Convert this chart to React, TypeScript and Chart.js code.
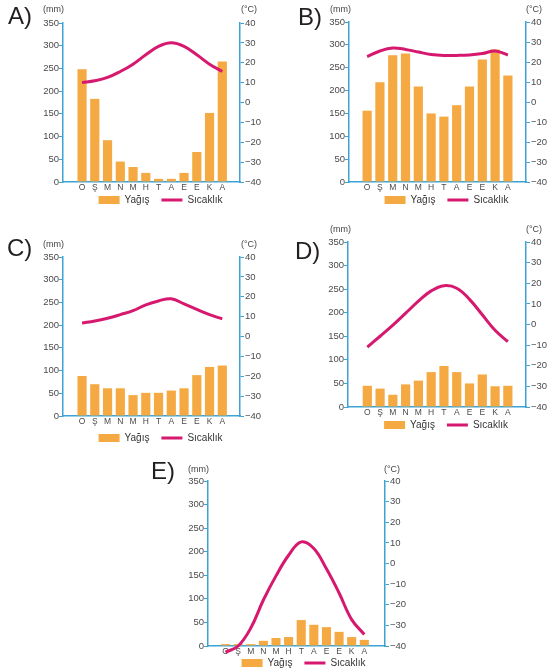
import React, { useEffect, useRef } from 'react';
import { Chart, registerables } from 'chart.js';

Chart.register(...registerables);

// ---- data ----
const months = ['O', 'Ş', 'M', 'N', 'M', 'H', 'T', 'A', 'E', 'E', 'K', 'A'];
const legendNames = ['Yağış', 'Sıcaklık'];
const unitLeft = '(mm)';
const unitRight = '(°C)';

const precipA = [248, 183, 92, 45, 33, 20, 7, 7, 20, 66, 152, 265];
const tempA = [10, 10.9, 12.6, 15.6, 19.3, 24, 28.2, 30, 28.2, 24, 19.3, 15.6];

const precipB = [156, 218, 277, 281, 209, 150, 143, 168, 209, 268, 290, 233];
const tempB = [22.7, 25.5, 27, 26.3, 25, 23.8, 23.3, 23.3, 23.5, 24.2, 25.5, 23.5];

const precipC = [88, 70, 61, 61, 46, 51, 51, 56, 61, 90, 108, 111];
const tempC = [6.8, 7.8, 9.2, 11, 13, 15.9, 17.9, 19, 16.4, 13.6, 11, 8.9];

const precipD = [45, 39, 26, 48, 56, 74, 87, 74, 50, 69, 44, 45];
const tempD = [-11, -5.7, -0.3, 5.5, 11.3, 16.3, 18.8, 17.6, 12.2, 4.7, -2.8, -8.3];

const precipE = [4, 4, 4, 11, 17, 19, 55, 45, 40, 30, 19, 13];
const tempE = [-43, -40, -31.3, -17.7, -6, 4, 10.5, 7.3, -2.6, -14.3, -27.2, -34.4];

// ---- style ----
const FONT = "'Liberation Sans', Arial, Helvetica, sans-serif";
const BAR_COLOR = '#F5A942';
const LINE_COLOR = '#D6186E';
const AXIS_COLOR = '#3DA3D4';
const TICK_COLOR = '#4a4a4a';

Chart.defaults.font.family = FONT;

type Panel = {
  letter: string;
  precip: number[];
  temp: number[];
  L: number; R: number; T: number; B: number;
  xMin: number; xMax: number;
  legendGap: number; rightW: number;
  letterX: number; letterTop: number;
  unitTop: number; mmX: number; cX: number;
};

const panels: Panel[] = [
  { letter: 'A', precip: precipA, temp: tempA, L: 63, R: 240, T: 23, B: 182, xMin: -0.915, xMax: 11.81, legendGap: 18, rightW: 58, letterX: 8, letterTop: 4, unitTop: 5.4, mmX: 43, cX: 241 },
  { letter: 'B', precip: precipB, temp: tempB, L: 349, R: 526, T: 22, B: 182, xMin: -0.84, xMax: 11.84, legendGap: 18, rightW: 58, letterX: 298, letterTop: 5, unitTop: 5.4, mmX: 330, cX: 526 },
  { letter: 'C', precip: precipC, temp: tempC, L: 63, R: 240, T: 257, B: 416, xMin: -0.915, xMax: 11.81, legendGap: 22, rightW: 58, letterX: 7, letterTop: 236, unitTop: 240.4, mmX: 43, cX: 241 },
  { letter: 'D', precip: precipD, temp: tempD, L: 348, R: 526, T: 242, B: 407, xMin: -0.93, xMax: 11.84, legendGap: 18, rightW: 58, letterX: 295, letterTop: 239, unitTop: 225.4, mmX: 330, cX: 526 },
  { letter: 'E', precip: precipE, temp: tempE, L: 208, R: 385, T: 481, B: 646, xMin: -0.85, xMax: 12.1, legendGap: 17, rightW: 54, letterX: 151, letterTop: 459, unitTop: 465.4, mmX: 188, cX: 384 },
];

const LEFT_W = 40;
const PAD_TOP = 10;
const X_AXIS_H = 12;
const LEGEND_PAD = 12;
const LEGEND_FONT = 10;
const LEGEND_H = LEGEND_FONT + LEGEND_PAD + 10;

function ClimatePanel({ p }: { p: Panel }) {
  const ref = useRef<HTMLCanvasElement>(null);
  const cw = LEFT_W + (p.R - p.L) + p.rightW;
  const ch = PAD_TOP + (p.B - p.T) + X_AXIS_H + LEGEND_H;
  // natural legend item centre sits X_AXIS_H + LEGEND_PAD + font/2 below the axis
  const legendShift = X_AXIS_H + LEGEND_PAD + LEGEND_FONT / 2 - p.legendGap;

  useEffect(() => {
    if (!ref.current) return;
    const tickFont = { family: FONT, size: 9.5 };
    const shiftLegend = {
      id: 'shiftLegend',
      afterLayout(chart: any) {
        const lg = chart.legend;
        if (lg) {
          lg.top -= legendShift;
          lg.bottom -= legendShift;
        }
      },
    };
    const chart = new Chart(ref.current, {
      type: 'bar',
      data: {
        datasets: [
          {
            type: 'bar',
            label: legendNames[0],
            data: p.precip.map((v, i) => ({ x: i, y: v })),
            backgroundColor: BAR_COLOR,
            borderWidth: 0,
            barPercentage: 0.72,
            categoryPercentage: 1,
            xAxisID: 'x',
            yAxisID: 'y',
            order: 1,
          } as any,
          {
            type: 'line',
            label: legendNames[1],
            data: p.temp.map((v, i) => ({ x: i, y: v })),
            borderColor: LINE_COLOR,
            backgroundColor: LINE_COLOR,
            borderWidth: 3,
            pointRadius: 0,
            tension: 0.4,
            clip: false,
            xAxisID: 'x',
            yAxisID: 'y2',
            order: 0,
          } as any,
        ],
      },
      plugins: [shiftLegend],
      options: {
        responsive: false,
        animation: false,
        events: [],
        layout: { padding: { top: PAD_TOP, left: 0, right: 0, bottom: 0 } },
        plugins: {
          tooltip: { enabled: false },
          legend: {
            position: 'bottom',
            labels: {
              usePointStyle: true,
              pointStyleWidth: 21,
              boxHeight: 8,
              padding: LEGEND_PAD,
              color: '#333',
              font: { family: FONT, size: LEGEND_FONT },
              generateLabels: (c: any) => {
                const items = (Chart.defaults.plugins.legend.labels as any).generateLabels(c);
                items.forEach((it: any) => {
                  if (it.datasetIndex === 0) {
                    it.pointStyle = 'rect';
                    it.fillStyle = BAR_COLOR;
                    it.lineWidth = 0;
                  } else {
                    it.pointStyle = 'line';
                    it.strokeStyle = LINE_COLOR;
                    it.lineWidth = 3;
                  }
                });
                return items.sort((a: any, b: any) => a.datasetIndex - b.datasetIndex);
              },
            },
          },
        },
        scales: {
          x: {
            type: 'linear',
            position: 'bottom',
            min: p.xMin,
            max: p.xMax,
            afterFit: (s: any) => { s.height = X_AXIS_H; },
            grid: { display: false, drawTicks: false },
            border: { display: true, color: AXIS_COLOR, width: 1.5 },
            ticks: {
              stepSize: 1,
              autoSkip: false,
              includeBounds: false,
              maxRotation: 0,
              padding: 1,
              color: TICK_COLOR,
              font: { family: FONT, size: 8.5 },
              callback: (v: any) => (Number.isInteger(v) && months[v] !== undefined ? months[v] : ''),
            },
          },
          y: {
            type: 'linear',
            position: 'left',
            min: 0,
            max: 350,
            afterFit: (s: any) => { s.width = LEFT_W; },
            grid: { drawOnChartArea: false, drawTicks: true, tickLength: 4, color: AXIS_COLOR, lineWidth: 1 },
            border: { display: true, color: AXIS_COLOR, width: 1.5 },
            ticks: { stepSize: 50, padding: 0, color: TICK_COLOR, font: tickFont },
          },
          y2: {
            type: 'linear',
            position: 'right',
            min: -40,
            max: 40,
            afterFit: (s: any) => { s.width = p.rightW; },
            grid: { drawOnChartArea: false, drawTicks: true, tickLength: 4, color: AXIS_COLOR, lineWidth: 1 },
            border: { display: true, color: AXIS_COLOR, width: 1.5 },
            ticks: {
              stepSize: 10,
              padding: 1,
              color: TICK_COLOR,
              font: tickFont,
              callback: (v: any) => String(v).replace('-', '\u2212'),
            },
          },
        },
      } as any,
    });
    return () => chart.destroy();
  }, []);

  const textBase: React.CSSProperties = { position: 'absolute', fontFamily: FONT, whiteSpace: 'nowrap' };
  return (
    <>
      <canvas
        ref={ref}
        width={cw}
        height={ch}
        style={{ position: 'absolute', left: p.L - LEFT_W, top: p.T - PAD_TOP, width: cw, height: ch }}
      />
      <div style={{ ...textBase, left: p.letterX, top: p.letterTop, fontSize: 24, lineHeight: '24px', color: '#231f20' }}>
        {p.letter})
      </div>
      <div style={{ ...textBase, left: p.mmX, top: p.unitTop, fontSize: 9, lineHeight: '9px', color: '#444' }}>{unitLeft}</div>
      <div style={{ ...textBase, left: p.cX, top: p.unitTop, fontSize: 9, lineHeight: '9px', color: '#444' }}>{unitRight}</div>
    </>
  );
}

export default function App() {
  return (
    <div
      style={{
        position: 'absolute',
        left: 0,
        top: 0,
        width: 549,
        height: 670,
        overflow: 'hidden',
        background: '#fff',
      }}
    >
      {panels.map((p) => (
        <ClimatePanel key={p.letter} p={p} />
      ))}
    </div>
  );
}
